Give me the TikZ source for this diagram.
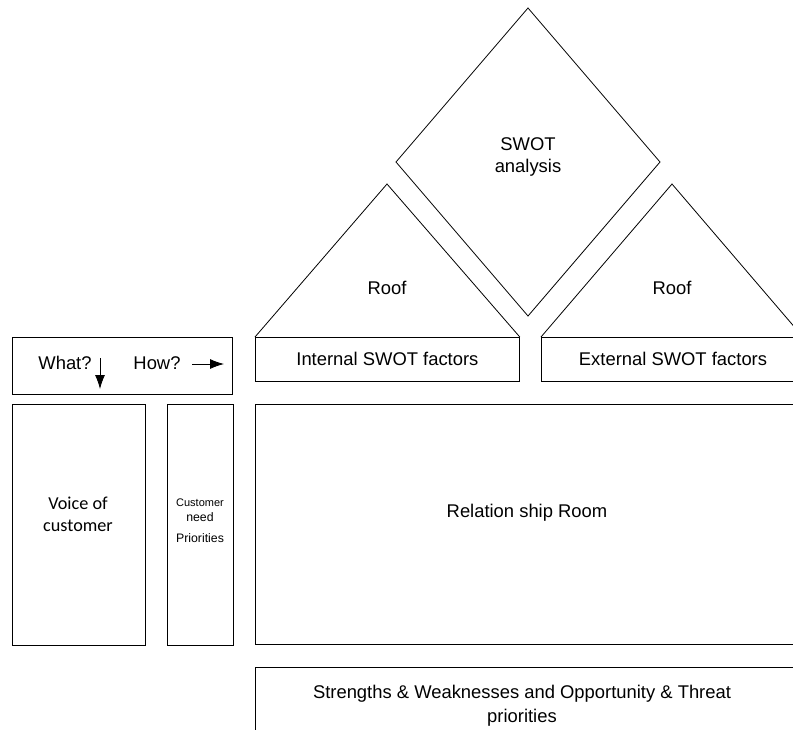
\documentclass[tikz,border=0pt]{standalone}
\usepackage{fontspec}
\setmainfont{Liberation Sans}
\newfontfamily\calibri{Carlito}
\usetikzlibrary{arrows.meta}
\tikzset{
  panel/.style={draw, line width=0.8pt, inner sep=0pt, anchor=north west},
  lbl/.style={align=center, inner sep=0pt, font=\fontsize{18.4}{22}\selectfont},
  edge/.style={line width=0.8pt},
  pointer/.style={-{Latex[length=14pt,width=10pt]}, line width=0.8pt}
}
\begin{document}
\begin{tikzpicture}[x=1pt,y=-1pt]
\useasboundingbox (0,0) rectangle (793,729);
\clip (0,0) rectangle (793,729);
\coordinate (st) at (528,8);
\coordinate (sr) at (660,162);
\coordinate (sb) at (528,316);
\coordinate (sl) at (396,162);
\coordinate (roofL) at (387,184);
\coordinate (roofR) at (672,184);
\node[panel, minimum width=220pt, minimum height=57pt] (ask) at (12,337) {};
\node[panel, minimum width=133pt, minimum height=241pt] (voice) at (12,404) {};
\node[panel, minimum width=66pt, minimum height=241pt] (need) at (167,404) {};
\node[panel, minimum width=264pt, minimum height=44pt, lbl] (internal) at (255,337) {Internal SWOT factors};
\node[panel, minimum width=300pt, minimum height=44pt] (external) at (541,337) {};
\node[panel, minimum width=600pt, minimum height=240pt] (room) at (255,404) {};
\node[panel, minimum width=600pt, minimum height=100pt] (prio) at (255,667) {};
\draw[edge] (st)--(sr)--(sb)--(sl)--cycle;
\draw[edge] (internal.north west)--(roofL)--(internal.north east);
\draw[edge] (external.north west)--(roofR)--(803,337);
\node[lbl] (swot) at (528,157) {SWOT\\analysis};
\node[lbl] (roofLtxt) at (387,288) {Roof};
\node[lbl] (roofRtxt) at (672,288) {Roof};
\node[lbl] (exttxt) at (673,359) {External SWOT factors};
\node[lbl] (what) at (65,363) {What?};
\node[lbl] (how) at (157,363) {How?};
\coordinate (downA) at (100,358);
\coordinate (downB) at (100,389);
\coordinate (rightA) at (192,364);
\coordinate (rightB) at (224,364);
\draw[pointer] (downA)--(downB);
\draw[pointer] (rightA)--(rightB);
\node[lbl, font=\calibri\fontsize{18.2}{22}\selectfont] (voicetxt) at (78,514) {Voice of\\customer};
\node[lbl] (needtxt) at (200,521) {\fontsize{11}{13}\selectfont Customer\\[-7pt]\fontsize{12.3}{15}\selectfont need\\[-1pt]\fontsize{12.3}{15}\selectfont Priorities};
\node[lbl] (roomtxt) at (527,513) {Relation ship Room};
\node[lbl, font=\fontsize{18.4}{24}\selectfont] (priotxt) at (522,706) {Strengths \& Weaknesses and Opportunity \& Threat\\priorities};
\end{tikzpicture}
\end{document}
